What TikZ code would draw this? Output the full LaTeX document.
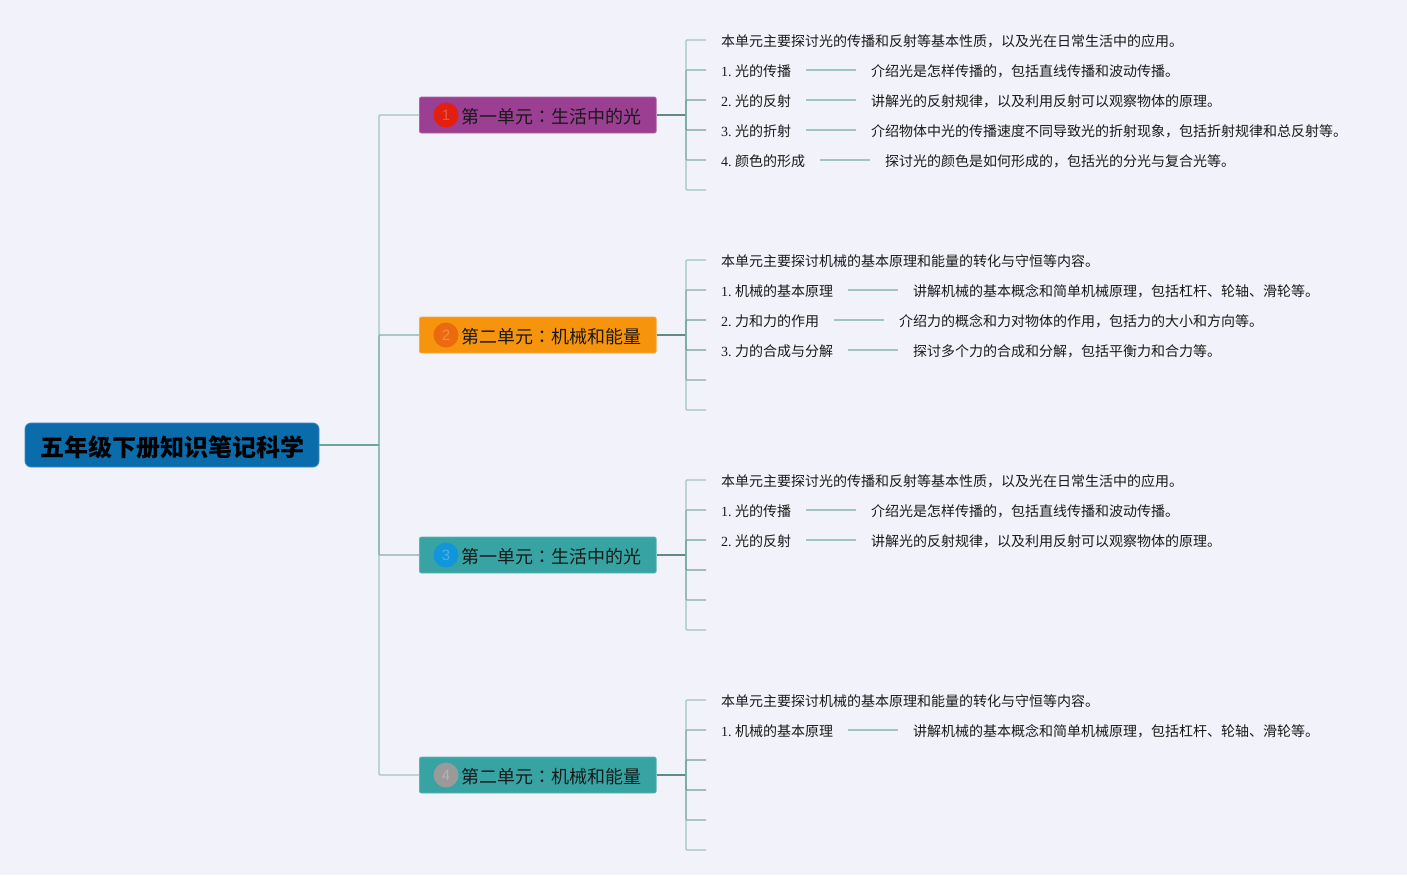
\documentclass[tikz,border=0pt]{standalone}
\usepackage{fontspec}
\setmainfont{Liberation Serif}
\newfontfamily\cjk{Noto Sans CJK SC}
\newfontfamily\cjktc{Noto Sans CJK TC}
\newfontfamily\badgefont{Liberation Sans}
\newcommand{\zh}[1]{{\cjk #1}}
\newcommand{\midcolon}{{\cjktc ：}}
\frenchspacing
\definecolor{bgc}{HTML}{F2F2FA}
\definecolor{lnA}{HTML}{6FA598}
\definecolor{lnB}{HTML}{85B1A9}
\definecolor{lnC}{HTML}{A0C4BE}
\definecolor{ink}{HTML}{1A1A1A}
\definecolor{rootc}{HTML}{0A6CAB}
\definecolor{purplec}{HTML}{9B3F92}
\definecolor{orangec}{HTML}{F7940E}
\definecolor{tealc}{HTML}{37A3A3}
\definecolor{bRed}{HTML}{E3200F}
\definecolor{bOrange}{HTML}{EC6A0F}
\definecolor{bBlue}{HTML}{1296DB}
\definecolor{bGrey}{HTML}{9A9A9A}
\tikzset{
  x=1pt,y=-1pt,
  rootbox/.style={draw=rootc!80!white,fill=rootc,line width=.8pt,rounded corners=6pt,minimum width=294pt,minimum height=44pt,inner sep=0pt,text height=24pt,text depth=1pt,font=\fontsize{24}{26}\selectfont\cjk\bfseries,text=black},
  secbox/.style={draw=#1!80!white,fill=#1,line width=.8pt,rounded corners=2pt,anchor=west,inner xsep=0pt,inner ysep=0pt,minimum height=36pt,text height=17pt,text depth=1pt,font=\fontsize{18}{20}\selectfont\cjk,text=black!90},
  badge/.style={circle,fill=#1,text=#1!75!white,minimum size=25pt,inner sep=0pt,font=\fontsize{15}{15}\selectfont\badgefont},
  leaf/.style={anchor=west,inner xsep=15pt,inner ysep=0pt,text height=14.5pt,text depth=1.5pt,font=\fontsize{14}{16}\selectfont,text=ink},
  desc/.style={leaf,font=\fontsize{14}{16}\selectfont\cjk},
  stemA/.style={line width=1.3pt,rounded corners=1pt,draw=lnA},
  stemB/.style={line width=1.3pt,rounded corners=1pt,draw=lnB},
  stemC/.style={line width=1.3pt,rounded corners=1pt,draw=lnC},
  strong/.style={line width=1.8pt,draw=lnA!85!black},
  tail/.style={line width=1.3pt,draw=lnC}
}
\newcommand{\sectxt}[1]{\hspace*{42pt}#1\hspace*{14.8pt}}
\begin{document}
\begin{tikzpicture}
\useasboundingbox[fill=bgc] (0,0) rectangle (1407,875);

% root and sections
\node[rootbox] (root) at (172,445) {五年级下册知识笔记科学};
\node[secbox=purplec] (s1) at (419,115) {\sectxt{第一单元\midcolon 生活中的光}};
\node[secbox=orangec] (s2) at (419,335) {\sectxt{第二单元\midcolon 机械和能量}};
\node[secbox=tealc]   (s3) at (419,555) {\sectxt{第一单元\midcolon 生活中的光}};
\node[secbox=tealc]   (s4) at (419,775) {\sectxt{第二单元\midcolon 机械和能量}};
\node[badge=bRed]    (b1) at (446,115) {1};
\node[badge=bOrange] (b2) at (446,335) {2};
\node[badge=bBlue]   (b3) at (446,555) {3};
\node[badge=bGrey]   (b4) at (446,775) {4};

% trunk
\coordinate (trunk) at (379,445);
\coordinate (st1) at (686,115);
\coordinate (st2) at (686,335);
\coordinate (st3) at (686,555);
\coordinate (st4) at (686,775);
\draw[stemC] (trunk) |- (s1.west);
\draw[stemC] (trunk) |- (s4.west);
\draw[stemB] (trunk) |- (s2.west);
\draw[stemB] (trunk) |- (s3.west);
\draw[stemA] (root.east) -- (trunk);
\draw[strong] (s1.east) -- (st1);
\draw[strong] (s2.east) -- (st2);
\draw[strong] (s3.east) -- (st3);
\draw[strong] (s4.east) -- (st4);

% unit 1
\node[desc] (a0) at (706,40) {本单元主要探讨光的传播和反射等基本性质，以及光在日常生活中的应用。};
\node[leaf] (a1) at (706,70) {1. \zh{光的传播}};
\node[desc] (a1d) at (856,70) {介绍光是怎样传播的，包括直线传播和波动传播。};
\node[leaf] (a2) at (706,100) {2. \zh{光的反射}};
\node[desc] (a2d) at (856,100) {讲解光的反射规律，以及利用反射可以观察物体的原理。};
\node[leaf] (a3) at (706,130) {3. \zh{光的折射}};
\node[desc] (a3d) at (856,130) {介绍物体中光的传播速度不同导致光的折射现象，包括折射规律和总反射等。};
\node[leaf] (a4) at (706,160) {4. \zh{颜色的形成}};
\node[desc] (a4d) at (870,160) {探讨光的颜色是如何形成的，包括光的分光与复合光等。};
\coordinate (a5) at (706,190);
\draw[stemC] (st1) |- (a0.west);
\draw[stemC] (st1) |- (a5);
\draw[stemB] (st1) |- (a1.west);
\draw[stemB] (st1) |- (a4.west);
\draw[stemA] (st1) |- (a2.west);
\draw[stemA] (st1) |- (a3.west);
\draw[tail] (a1.east) -- (a1d.west);
\draw[tail] (a2.east) -- (a2d.west);
\draw[tail] (a3.east) -- (a3d.west);
\draw[tail] (a4.east) -- (a4d.west);

% unit 2
\node[desc] (c0) at (706,260) {本单元主要探讨机械的基本原理和能量的转化与守恒等内容。};
\node[leaf] (c1) at (706,290) {1. \zh{机械的基本原理}};
\node[desc] (c1d) at (898,290) {讲解机械的基本概念和简单机械原理，包括杠杆、轮轴、滑轮等。};
\node[leaf] (c2) at (706,320) {2. \zh{力和力的作用}};
\node[desc] (c2d) at (884,320) {介绍力的概念和力对物体的作用，包括力的大小和方向等。};
\node[leaf] (c3) at (706,350) {3. \zh{力的合成与分解}};
\node[desc] (c3d) at (898,350) {探讨多个力的合成和分解，包括平衡力和合力等。};
\coordinate (c4) at (706,380);
\coordinate (c5) at (706,410);
\draw[stemC] (st2) |- (c0.west);
\draw[stemC] (st2) |- (c5);
\draw[stemB] (st2) |- (c1.west);
\draw[stemB] (st2) |- (c4);
\draw[stemA] (st2) |- (c2.west);
\draw[stemA] (st2) |- (c3.west);
\draw[tail] (c1.east) -- (c1d.west);
\draw[tail] (c2.east) -- (c2d.west);
\draw[tail] (c3.east) -- (c3d.west);

% unit 3
\node[desc] (e0) at (706,480) {本单元主要探讨光的传播和反射等基本性质，以及光在日常生活中的应用。};
\node[leaf] (e1) at (706,510) {1. \zh{光的传播}};
\node[desc] (e1d) at (856,510) {介绍光是怎样传播的，包括直线传播和波动传播。};
\node[leaf] (e2) at (706,540) {2. \zh{光的反射}};
\node[desc] (e2d) at (856,540) {讲解光的反射规律，以及利用反射可以观察物体的原理。};
\coordinate (e3) at (706,570);
\coordinate (e4) at (706,600);
\coordinate (e5) at (706,630);
\draw[stemC] (st3) |- (e0.west);
\draw[stemC] (st3) |- (e5);
\draw[stemB] (st3) |- (e1.west);
\draw[stemB] (st3) |- (e4);
\draw[stemA] (st3) |- (e2.west);
\draw[stemA] (st3) |- (e3);
\draw[tail] (e1.east) -- (e1d.west);
\draw[tail] (e2.east) -- (e2d.west);

% unit 4
\node[desc] (g0) at (706,700) {本单元主要探讨机械的基本原理和能量的转化与守恒等内容。};
\node[leaf] (g1) at (706,730) {1. \zh{机械的基本原理}};
\node[desc] (g1d) at (898,730) {讲解机械的基本概念和简单机械原理，包括杠杆、轮轴、滑轮等。};
\coordinate (g2) at (706,760);
\coordinate (g3) at (706,790);
\coordinate (g4) at (706,820);
\coordinate (g5) at (706,850);
\draw[stemC] (st4) |- (g0.west);
\draw[stemC] (st4) |- (g5);
\draw[stemB] (st4) |- (g1.west);
\draw[stemB] (st4) |- (g4);
\draw[stemA] (st4) |- (g2);
\draw[stemA] (st4) |- (g3);
\draw[tail] (g1.east) -- (g1d.west);
\end{tikzpicture}
\end{document}
